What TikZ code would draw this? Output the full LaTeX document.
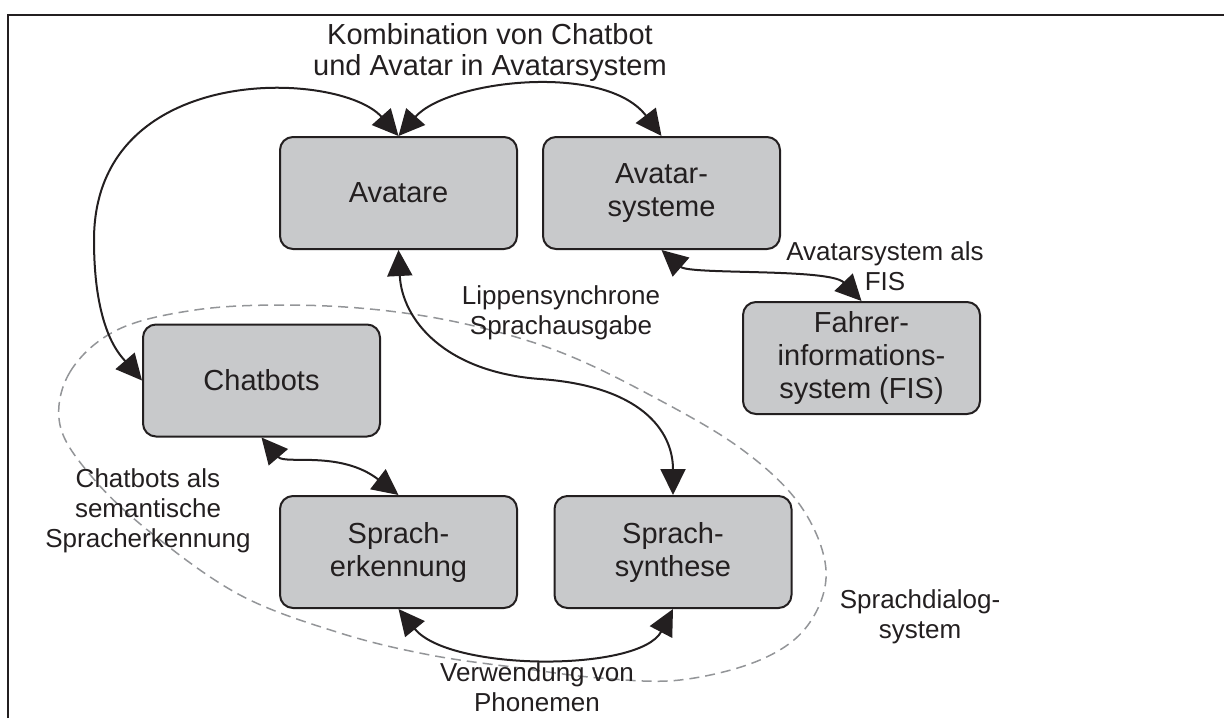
\documentclass[tikz,border=0pt]{standalone}
\usepackage{fontspec}
\setmainfont{Liberation Sans}
\usetikzlibrary{arrows.meta}
\definecolor{ink}{HTML}{231F20}
\definecolor{boxgray}{HTML}{C8C9CB}
\definecolor{dashgray}{HTML}{939598}
\begin{document}
\begin{tikzpicture}[x=0.5pt,y=-0.5pt,
  block/.style={draw=ink, fill=boxgray, line width=1pt, rounded corners=6.5pt,
    minimum width=118.5pt, minimum height=56pt, inner sep=0pt, align=center,
    text=ink, font=\fontsize{14.5}{16.5}\selectfont},
  lbl/.style={align=center, text=ink, inner sep=0pt, font=\fontsize{13}{15}\selectfont},
  headline/.style={align=center, text=ink, inner sep=0pt, font=\fontsize{14.5}{15.5}\selectfont},
  link/.style={draw=ink, line width=1pt,
    {Triangle[length=13pt,width=12.5pt]}-{Triangle[length=13pt,width=12.5pt]}},
  region/.style={draw=dashgray, line width=0.75pt, dash pattern=on 5pt off 3pt}
]
\useasboundingbox (0,0) rectangle (1224,718);

% outer frame
\draw[ink, line width=1.25pt] (8,718) -- (8,15) -- (1224,15);

% speech dialogue system region
\draw[region] plot[smooth cycle, tension=0.6] coordinates {
  (60,425) (70,372) (117,330) (195,310) (285,305) (380,310) (470,325)
  (560,352) (650,395) (740,448) (800,505) (826,570) (808,625) (760,660)
  (680,680) (600,678) (520,668) (430,655) (340,633) (240,595) (150,532) (92,477)};

% components
\node[block] (av)  at (398.5,193) {Avatare};
\node[block] (avs) at (661.5,193) {Avatar-\\systeme};
\node[block] (fis) at (861.5,358) {Fahrer-\\informations-\\system (FIS)};
\node[block] (ch)  at (261.5,380.5) {Chatbots};
\node[block] (se)  at (398.5,552) {Sprach-\\erkennung};
\node[block] (ss)  at (673,552) {Sprach-\\synthese};

% relation labels
\node[headline] (ttl) at (490,52) {Kombination von Chatbot\\und Avatar in Avatarsystem};
\node[lbl] (lip)  at (561,313) {Lippensynchrone\\Sprachausgabe};
\node[lbl] (fisl) at (885,266) {Avatarsystem als\\FIS};
\node[lbl] (chl)  at (148,511) {Chatbots als\\semantische\\Spracherkennung};
\node[lbl] (pho)  at (537,687) {Verwendung von\\Phonemen};
\node[lbl] (sds)  at (920,617) {Sprachdialog-\\system};

% connectors
\draw[link] (av.north) .. controls (340,70) and (94,60) .. (94,240)
  .. controls (94,330) and (120,355) .. (ch.west);
\draw[link] (av.north) .. controls (448,80) and (605,62) .. (avs.north);
\draw[link] (avs.south) .. controls (690,275) and (830,268) .. (fis.north);
\draw[link] (av.south) .. controls (402,320) and (445,372) .. (540,379)
  .. controls (640,386) and (673,430) .. (ss.north);
\draw[link] (ch.south) .. controls (285,465) and (340,450) .. (se.north);
\draw[link] (se.south) .. controls (450,672) and (640,672) .. (ss.south);
\end{tikzpicture}
\end{document}
